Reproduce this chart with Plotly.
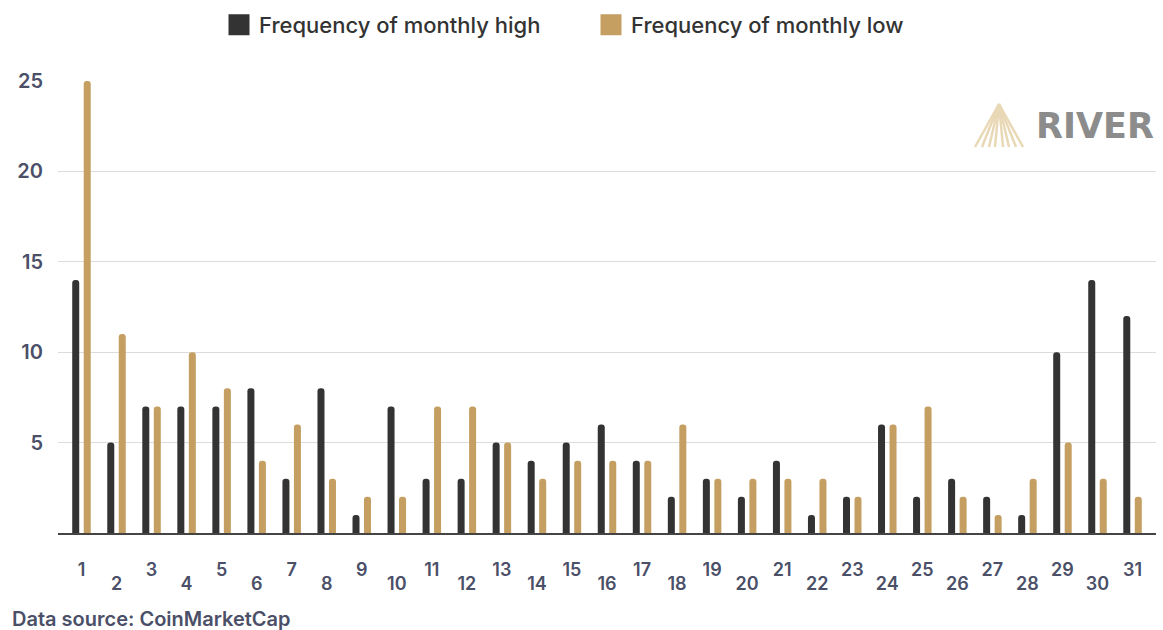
import plotly.graph_objects as go

days = list(range(1, 32))
freq_high = [14, 5, 7, 7, 7, 8, 3, 8, 1, 7, 3, 3, 5, 4, 5, 6, 4, 2, 3, 2, 4, 1, 2, 6, 2, 3, 2, 1, 10, 14, 12]
freq_low = [25, 11, 7, 10, 8, 4, 6, 3, 2, 2, 7, 7, 5, 3, 4, 4, 4, 6, 3, 3, 3, 3, 2, 6, 7, 2, 1, 3, 5, 3, 2]
y_ticks = [5, 10, 15, 20, 25]
odd_days = [d for d in days if d % 2 == 1]
even_days = [d for d in days if d % 2 == 0]

C_HIGH = "#333333"
C_LOW = "#c49f61"
TXT = "#4b4f68"
FONT = "Inter"

W, H = 1163, 630
L, R, T, B = 58, 7, 81, 97
pw, ph = W - L - R, H - T - B


def px(x):
    return (x - L) / pw


def py(y):
    return (H - B - y) / ph


BW = 0.2
fig = go.Figure()
fig.add_trace(go.Bar(x=days, y=freq_high, name="Frequency of monthly high", xaxis="x",
                     width=BW, offset=-0.164 - BW / 2,
                     marker=dict(color=C_HIGH, line=dict(width=0), cornerradius="50%"), showlegend=False))
fig.add_trace(go.Bar(x=days, y=freq_low, name="Frequency of monthly low", xaxis="x2",
                     width=BW, offset=0.164 - BW / 2,
                     marker=dict(color=C_LOW, line=dict(width=0), cornerradius="50%"), showlegend=False))
# legend entries
fig.add_trace(go.Scatter(x=[None], y=[None], mode="markers", name="Frequency of monthly high",
                         marker=dict(symbol="square", size=16, color=C_HIGH, line=dict(color=C_HIGH, width=5))))
fig.add_trace(go.Scatter(x=[None], y=[None], mode="markers", name="Frequency of monthly low",
                         marker=dict(symbol="square", size=16, color=C_LOW, line=dict(color=C_LOW, width=5))))

xr = [0.33, 31.67]
fig.update_layout(
    width=W, height=H,
    margin=dict(l=L, r=R, t=T, b=B, autoexpand=False),
    paper_bgcolor="white", plot_bgcolor="white",
    barmode="overlay",
    font=dict(family=FONT, color=TXT),
    legend=dict(orientation="h", x=px(591), xanchor="center", y=py(25), yanchor="middle",
                font=dict(size=22, color="#333333", family=FONT, weight=500), itemsizing="trace",
                traceorder="normal", entrywidth=327, entrywidthmode="pixels"),
    xaxis=dict(range=xr, tickmode="array", tickvals=odd_days, ticktext=[str(d) for d in odd_days],
               showgrid=False, zeroline=False, showline=True, linecolor="#444444", linewidth=2,
               ticks="", ticklabelstandoff=19,
               tickfont=dict(size=18, color=TXT, family=FONT, weight=600), fixedrange=True),
    xaxis2=dict(range=xr, overlaying="x", anchor="y", side="bottom", tickmode="array",
                tickvals=even_days, ticktext=[str(d) for d in even_days],
                showgrid=False, zeroline=False, showline=False, ticks="", ticklabelstandoff=38,
                tickfont=dict(size=18, color=TXT, family=FONT, weight=600)),
    yaxis=dict(range=[0, 25], tickmode="array", tickvals=y_ticks, showgrid=True,
               gridcolor="#dcdcdc", gridwidth=1, zeroline=False, showline=False, ticks="",
               ticklabelstandoff=14, tickfont=dict(size=20, color=TXT, family=FONT, weight=600)),
)

# RIVER logo
fig.add_annotation(xref="paper", yref="paper", x=px(1095), y=py(126), xanchor="center", yanchor="middle",
                   text="RIVER", showarrow=False,
                   font=dict(family="DejaVu Sans", size=35, color="#8c8c8c", weight=700))
apex = (999, 104)
for bx in [975, 982, 989, 995, 1003, 1009, 1016, 1023]:
    fig.add_shape(type="line", xref="paper", yref="paper", x0=px(apex[0]), y0=py(apex[1]),
                  x1=px(bx), y1=py(147), line=dict(color="#e9d8b6", width=2.5))

fig.add_annotation(xref="paper", yref="paper", x=px(10), y=py(619), xanchor="left", yanchor="middle",
                   text="Data source: CoinMarketCap", showarrow=False,
                   font=dict(family=FONT, size=20, color=TXT, weight=600))

fig.write_html("out.html", config={"displayModeBar": False},
               post_script="document.body.style.margin='0';document.body.style.padding='0';")
